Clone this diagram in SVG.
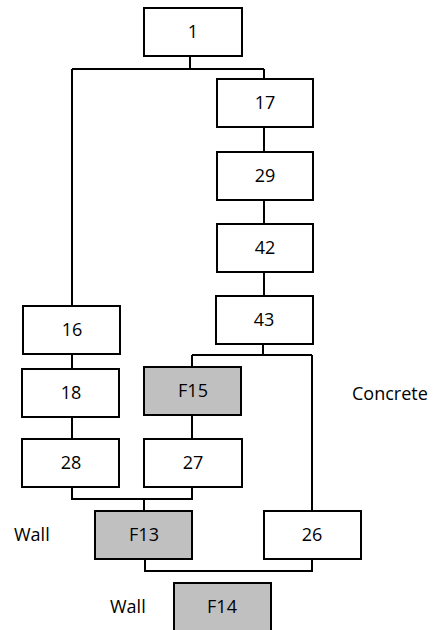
<svg xmlns="http://www.w3.org/2000/svg" width="435" height="630" viewBox="0 0 435 630">
  <style>
    .box { fill: #ffffff; stroke: #000000; stroke-width: 2; }
    .box.mat { fill: #c0c0c0; }
    .lbl { font-family: "Open Sans", "Liberation Sans", sans-serif; font-size: 18px; fill: #000000; text-anchor: middle; }
    .note { font-family: "Open Sans", "Liberation Sans", sans-serif; font-size: 18px; fill: #000000; }
    .wire { fill: none; stroke: #000000; stroke-width: 2; }
  </style>
  <rect width="435" height="630" fill="#ffffff"/>

  <g id="connectors">
    <!-- 1 splits into the left and right chains -->
    <path class="wire" d="M190 56 V69 M72 69 H264 M72 69 V306 M264 69 V79"/>
    <!-- right chain -->
    <path class="wire" d="M264 127 V152 M264 200 V224 M264 272 V296"/>
    <!-- 43 splits to F15 and 26 -->
    <path class="wire" d="M263 344 V355 M192 355 H312 M192 355 V367 M312 355 V511"/>
    <!-- left chain -->
    <path class="wire" d="M72 354 V369 M72 417 V439 M192 415 V439"/>
    <!-- 28 and 27 join into F13 -->
    <path class="wire" d="M72 487 V499 H192 V487 M144 499 V511"/>
    <!-- F13 and 26 join -->
    <path class="wire" d="M145 559 V571 H312 V559"/>
  </g>

  <g id="n1"><rect class="box" x="144" y="8" width="98" height="48"/><text class="lbl" x="193" y="38">1</text></g>
  <g id="n17"><rect class="box" x="217" y="79" width="96" height="48"/><text class="lbl" x="265" y="109">17</text></g>
  <g id="n29"><rect class="box" x="217" y="152" width="96" height="48"/><text class="lbl" x="265" y="182">29</text></g>
  <g id="n42"><rect class="box" x="217" y="224" width="96" height="48"/><text class="lbl" x="265" y="254">42</text></g>
  <g id="n43"><rect class="box" x="216" y="296" width="97" height="48"/><text class="lbl" x="264" y="326">43</text></g>
  <g id="n16"><rect class="box" x="23" y="306" width="97" height="48"/><text class="lbl" x="72" y="336">16</text></g>
  <g id="n18"><rect class="box" x="22" y="369" width="97" height="48"/><text class="lbl" x="71" y="399">18</text></g>
  <g id="nF15"><rect class="box mat" x="144" y="367" width="97" height="48"/><text class="lbl" x="193" y="397">F15</text></g>
  <g id="n28"><rect class="box" x="22" y="439" width="97" height="48"/><text class="lbl" x="71" y="469">28</text></g>
  <g id="n27"><rect class="box" x="144" y="439" width="98" height="48"/><text class="lbl" x="193" y="469">27</text></g>
  <g id="nF13"><rect class="box mat" x="95" y="511" width="97" height="48"/><text class="lbl" x="144" y="541">F13</text></g>
  <g id="n26"><rect class="box" x="264" y="511" width="97" height="48"/><text class="lbl" x="312" y="541">26</text></g>
  <g id="nF14"><rect class="box mat" x="174" y="583" width="97" height="50"/><text class="lbl" x="222" y="613">F14</text></g>

  <g id="notes">
    <text class="note" x="352" y="400">Concrete</text>
    <text class="note" x="14" y="541">Wall</text>
    <text class="note" x="110" y="613">Wall</text>
  </g>
</svg>
